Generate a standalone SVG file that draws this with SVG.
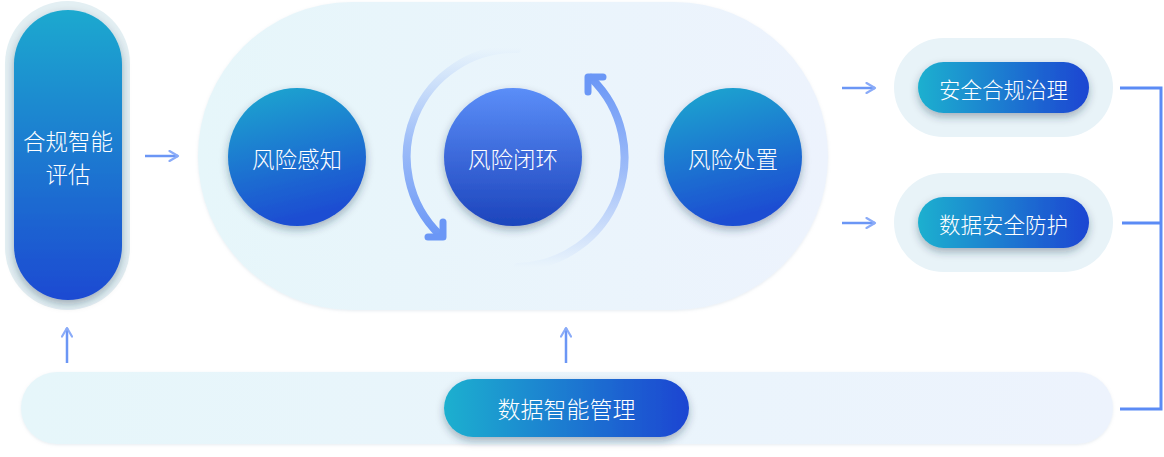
<svg xmlns="http://www.w3.org/2000/svg" width="1164" height="457" viewBox="0 0 1164 457">
<defs>
  <linearGradient id="gV" x1="0" y1="0" x2="0.25" y2="1">
    <stop offset="0" stop-color="#1fa9cf"/>
    <stop offset="1" stop-color="#1a4ed2"/>
  </linearGradient>
  <linearGradient id="gPillV" x1="0" y1="0" x2="0" y2="1">
    <stop offset="0" stop-color="#1fa9cf"/>
    <stop offset="1" stop-color="#1a4ad2"/>
  </linearGradient>
  <linearGradient id="gCore" x1="0" y1="0" x2="0" y2="1">
    <stop offset="0" stop-color="#5b8ef8"/>
    <stop offset="1" stop-color="#1c44bc"/>
  </linearGradient>
  <linearGradient id="gH" x1="0" y1="0" x2="1" y2="0">
    <stop offset="0" stop-color="#1fb0cf"/>
    <stop offset="1" stop-color="#1a45d2"/>
  </linearGradient>
  <linearGradient id="gBg" x1="0" y1="0" x2="1" y2="0">
    <stop offset="0" stop-color="#e6f6fa"/>
    <stop offset="1" stop-color="#edf3fd"/>
  </linearGradient>
  <linearGradient id="gArcL" gradientUnits="userSpaceOnUse" x1="0" y1="48" x2="0" y2="238">
    <stop offset="0" stop-color="#6b97f6" stop-opacity="0"/>
    <stop offset="0.5" stop-color="#6b97f6" stop-opacity="0.6"/>
    <stop offset="1" stop-color="#6b97f6" stop-opacity="1"/>
  </linearGradient>
  <linearGradient id="gArcR" gradientUnits="userSpaceOnUse" x1="0" y1="267" x2="0" y2="76">
    <stop offset="0" stop-color="#6b97f6" stop-opacity="0"/>
    <stop offset="0.5" stop-color="#6b97f6" stop-opacity="0.6"/>
    <stop offset="1" stop-color="#6b97f6" stop-opacity="1"/>
  </linearGradient>
  <filter id="sh" x="-30%" y="-30%" width="160%" height="170%">
    <feDropShadow dx="0" dy="4" stdDeviation="4" flood-color="#24304a" flood-opacity="0.35"/>
  </filter>
  <filter id="shSoft" x="-10%" y="-10%" width="120%" height="130%">
    <feDropShadow dx="0" dy="1" stdDeviation="1.5" flood-color="#9fb4c8" flood-opacity="0.25"/>
  </filter>
  <marker id="ah" viewBox="0 0 12 12" refX="10.5" refY="6" markerWidth="12" markerHeight="12" markerUnits="userSpaceOnUse" orient="auto">
    <path d="M2 1 L10.5 6 L2 11" fill="none" stroke="#8aabf8" stroke-width="2.2" stroke-linecap="round" stroke-linejoin="round"/>
  </marker>
</defs>
<style>
  .t { font-family: "Noto Sans CJK SC", "Noto Sans", sans-serif; font-weight: 300; fill: #ffffff; text-anchor: middle; dominant-baseline: central; }
  .halo { fill: #e8f3f8; }
  .arrow { stroke: #6b96f5; stroke-width: 2.5; fill: none; marker-end: url(#ah); }
  .bracket { stroke: #5b8bf5; stroke-width: 3; fill: none; }
  .arc { stroke-width: 8; fill: none; stroke-linecap: round; }
</style>

<!-- Backgrounds -->
<rect x="198" y="2" width="630" height="308" rx="154" fill="url(#gBg)" filter="url(#shSoft)"/>
<rect x="21" y="372" width="1092" height="72" rx="36" fill="url(#gBg)" filter="url(#shSoft)"/>

<!-- Left node -->
<g id="node-compliance-eval">
  <rect x="5" y="1" width="125" height="309" rx="62.5" fill="#e3eff3"/>
  <rect x="14" y="10" width="108" height="290" rx="54" fill="url(#gPillV)" filter="url(#sh)"/>
  <text class="t" x="68" y="140" font-size="22.5">合规智能</text>
  <text class="t" x="68" y="173" font-size="22.5">评估</text>
</g>

<!-- Circles -->
<g id="node-risk-perception">
  <circle cx="297" cy="157" r="69" fill="url(#gV)" filter="url(#sh)"/>
  <text class="t" x="297" y="158" font-size="22.5">风险感知</text>
</g>
<g id="node-risk-loop">
  <circle cx="513" cy="157" r="69" fill="url(#gCore)" filter="url(#sh)"/>
  <text class="t" x="513" y="158" font-size="22.5">风险闭环</text>
</g>
<g id="node-risk-handling">
  <circle cx="733" cy="157" r="69" fill="url(#gV)" filter="url(#sh)"/>
  <text class="t" x="733" y="158" font-size="22.5">风险处置</text>
</g>

<!-- Right nodes -->
<g id="node-compliance-governance">
  <rect x="894" y="38" width="219" height="99" rx="49.5" class="halo"/>
  <rect x="918" y="62" width="171" height="51" rx="25.5" fill="url(#gH)" filter="url(#sh)"/>
  <text class="t" x="1003.5" y="88" font-size="21.5">安全合规治理</text>
</g>
<g id="node-data-protection">
  <rect x="894" y="173" width="219" height="99" rx="49.5" class="halo"/>
  <rect x="918" y="197" width="171" height="51" rx="25.5" fill="url(#gH)" filter="url(#sh)"/>
  <text class="t" x="1003.5" y="223" font-size="21.5">数据安全防护</text>
</g>

<!-- Bottom node -->
<g id="node-data-management">
  <rect x="444" y="379" width="245" height="58" rx="29" fill="url(#gH)" filter="url(#sh)"/>
  <text class="t" x="566.5" y="408" font-size="23">数据智能管理</text>
</g>

<!-- Connectors -->
<g id="connectors">
  <line class="arrow" x1="145" y1="156" x2="178" y2="156"/>
  <line class="arrow" x1="842" y1="88" x2="875" y2="88"/>
  <line class="arrow" x1="842" y1="223" x2="875" y2="223"/>
  <line class="arrow" x1="67" y1="363" x2="67" y2="328"/>
  <line class="arrow" x1="566" y1="363" x2="566" y2="328"/>
  <path class="bracket" d="M1120 88 H1161 V409 H1120"/>
  <path class="bracket" d="M1122 223 H1161"/>
  <!-- loop arcs -->
  <path class="arc" stroke="url(#gArcL)" d="M517 49 A108 108 0 0 0 440 235"/>
  <polyline points="428,237 443,237 443,222" fill="none" stroke="#6b97f6" stroke-width="7" stroke-linecap="round" stroke-linejoin="round"/>
  <path class="arc" stroke="url(#gArcR)" d="M518 267 A110 110 0 0 0 591 78"/>
  <polyline points="603,77 588,77 588,92" fill="none" stroke="#6b97f6" stroke-width="7" stroke-linecap="round" stroke-linejoin="round"/>
</g>
</svg>
